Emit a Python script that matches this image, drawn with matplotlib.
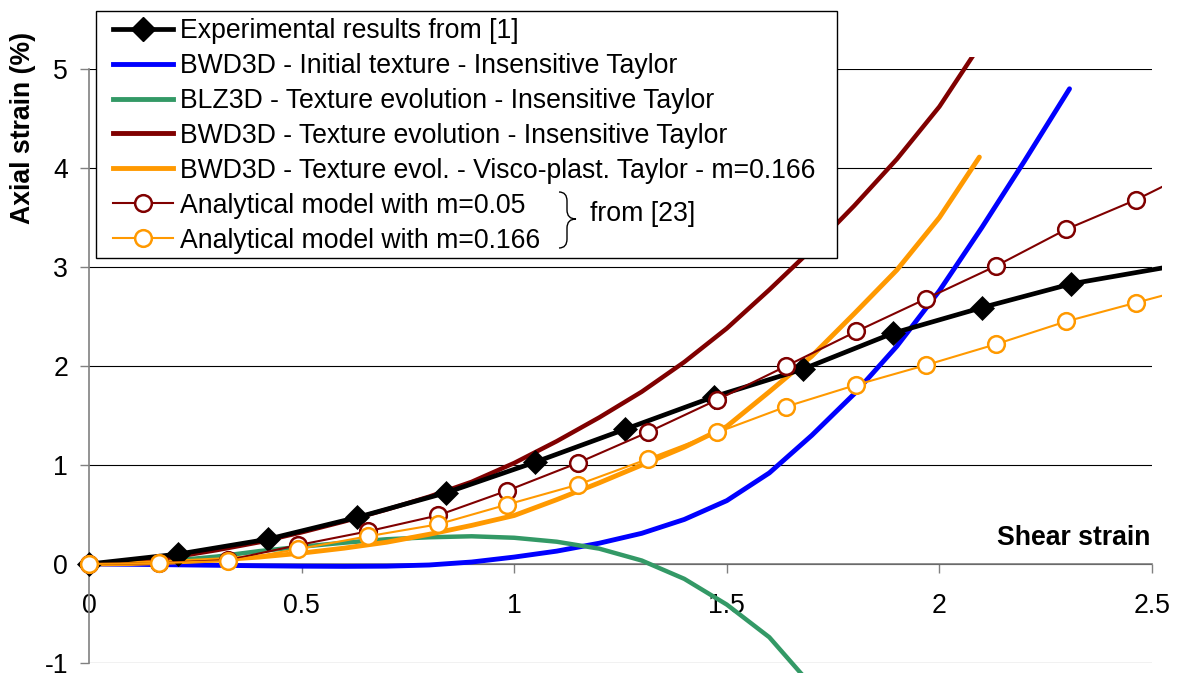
import matplotlib
matplotlib.use("Agg")
import matplotlib.pyplot as plt
from matplotlib.lines import Line2D
from matplotlib.patches import Rectangle, PathPatch
from matplotlib.path import Path
from matplotlib.transforms import Bbox, TransformedBbox

plt.rcParams['font.family'] = ['Liberation Sans', 'DejaVu Sans']
plt.rcParams['axes.unicode_minus'] = False

# ---------------- data ----------------
exp_x = [0, 0.21, 0.42, 0.63, 0.84, 1.05, 1.26, 1.47, 1.68, 1.89, 2.10, 2.31, 2.524]
exp_y = [0, 0.10, 0.25, 0.47, 0.72, 1.03, 1.36, 1.69, 1.97, 2.33, 2.59, 2.83, 2.99]

blue_x = [0, 0.1, 0.2, 0.3, 0.4, 0.5, 0.6, 0.7, 0.8, 0.9, 1.0, 1.1, 1.2, 1.3, 1.4,
          1.5, 1.6, 1.7, 1.8, 1.9, 2.0, 2.1, 2.2, 2.306]
blue_y = [0, -0.003, -0.008, -0.013, -0.018, -0.022, -0.024, -0.022, -0.01, 0.02,
          0.07, 0.13, 0.21, 0.31, 0.45, 0.64, 0.92, 1.30, 1.72, 2.20, 2.76, 3.40,
          4.07, 4.80]

green_x = [0, 0.1, 0.2, 0.3, 0.4, 0.5, 0.6, 0.7, 0.8, 0.9, 1.0, 1.1, 1.2, 1.3,
           1.4, 1.5, 1.6, 1.7]
green_y = [0, 0.01, 0.035, 0.075, 0.13, 0.175, 0.215, 0.25, 0.27, 0.28, 0.265,
           0.225, 0.155, 0.035, -0.15, -0.41, -0.74, -1.23]

brown_x = [0, 0.1, 0.2, 0.3, 0.4, 0.5, 0.6, 0.7, 0.8, 0.9, 1.0, 1.1, 1.2, 1.3,
           1.4, 1.5, 1.6, 1.7, 1.8, 1.9, 2.0, 2.08]
brown_y = [0, 0.02, 0.07, 0.14, 0.22, 0.32, 0.43, 0.55, 0.68, 0.83, 1.02, 1.24,
           1.48, 1.74, 2.04, 2.38, 2.77, 3.18, 3.62, 4.09, 4.62, 5.14]

orange_x = [0, 0.1, 0.2, 0.3, 0.4, 0.5, 0.6, 0.7, 0.8, 0.9, 1.0, 1.1, 1.2, 1.3,
            1.4, 1.5, 1.6, 1.7, 1.8, 1.9, 2.0, 2.094]
orange_y = [0, 0.005, 0.02, 0.04, 0.07, 0.11, 0.16, 0.22, 0.30, 0.39, 0.49, 0.65,
            0.82, 1.00, 1.18, 1.39, 1.74, 2.10, 2.53, 2.97, 3.50, 4.11]

ana_x = [0, 0.164, 0.328, 0.491, 0.656, 0.820, 0.983, 1.149, 1.314, 1.478, 1.640,
         1.805, 1.969, 2.133, 2.298, 2.463, 2.524]
ana05_y = [0, 0.01, 0.04, 0.19, 0.33, 0.49, 0.74, 1.02, 1.33, 1.66, 2.00, 2.35,
           2.68, 3.01, 3.38, 3.68, 3.81]
ana166_y = [0, 0.01, 0.03, 0.15, 0.28, 0.40, 0.60, 0.80, 1.06, 1.33, 1.59, 1.81,
            2.01, 2.22, 2.45, 2.64, 2.71]

labels = ["Experimental results from [1]",
          "BWD3D - Initial texture - Insensitive Taylor",
          "BLZ3D - Texture evolution - Insensitive Taylor",
          "BWD3D - Texture evolution - Insensitive Taylor",
          "BWD3D - Texture evol. - Visco-plast. Taylor - m=0.166",
          "Analytical model with m=0.05",
          "Analytical model with m=0.166"]

C_BLUE = '#0000FF'
C_GREEN = '#339966'
C_BROWN = '#800000'
C_ORANGE = '#FF9900'

# ---------------- figure ----------------
W, H = 1180, 673
fig = plt.figure(figsize=(W / 100, H / 100), dpi=100)
ax = fig.add_axes([89 / W, (H - 663) / H, (1152 - 89) / W, (663 - 69) / H])
ax.set_xlim(0, 2.5)
ax.set_ylim(-1, 5)

FS = 19.2
ax.set_xticks([0, 0.5, 1, 1.5, 2, 2.5])
ax.set_xticklabels(['0', '0.5', '1', '1.5', '2', '2.5'])
ax.set_yticks([-1, 0, 1, 2, 3, 4, 5])
ax.set_yticklabels(['-1', '0', '1', '2', '3', '4', '5'])
ax.tick_params(axis='both', direction='out', length=6.5, width=1,
               color='#808080', labelsize=FS, labelcolor='black')
ax.tick_params(axis='x', pad=14.5)
ax.tick_params(axis='y', pad=8.5)

for s in ['top', 'right']:
    ax.spines[s].set_visible(False)
ax.spines['bottom'].set_position(('data', 0))
ax.spines['bottom'].set_color('#808080')
ax.spines['left'].set_color('#808080')
ax.spines['bottom'].set_linewidth(1.2)
ax.spines['left'].set_linewidth(1.2)

ax.set_axisbelow(True)
ax.grid(axis='y', color='black', linewidth=0.8)
ax.grid(axis='x', visible=False)

ax.set_ylabel('Axial strain (%)', fontsize=FS, fontweight='bold', va='center')
ax.yaxis.set_label_coords((23 - 89) / (1152 - 89), (663 - 128) / (663 - 69))
ax.set_xlabel('Shear strain', fontsize=FS, fontweight='bold', ha='right', va='center')
ax.xaxis.set_label_coords((1150 - 89) / (1152 - 89), (663 - 538) / (663 - 69))

clip = TransformedBbox(Bbox.from_extents(-0.2, -1.6, 2.524, 5.12), ax.transData)

lines = []
lines.append(ax.plot(exp_x, exp_y, color='black', lw=3.4, marker='D', ms=12,
                     mfc='black', mec='black', mew=0.5,
                     markevery=list(range(len(exp_x) - 1)), zorder=5)[0])
lines.append(ax.plot(blue_x, blue_y, color=C_BLUE, lw=3.5, zorder=3,
                     solid_capstyle='round', solid_joinstyle='round')[0])
lines.append(ax.plot(green_x, green_y, color=C_GREEN, lw=3.2, zorder=3,
                     solid_joinstyle='round')[0])
lines.append(ax.plot(brown_x, brown_y, color=C_BROWN, lw=3.2, zorder=3,
                     solid_joinstyle='round')[0])
lines.append(ax.plot(orange_x, orange_y, color=C_ORANGE, lw=3.5, zorder=4,
                     solid_capstyle='round', solid_joinstyle='round')[0])
lines.append(ax.plot(ana_x, ana05_y, color=C_BROWN, lw=1.5, marker='o', ms=12,
                     mfc='white', mec=C_BROWN, mew=1.8,
                     markevery=list(range(len(ana_x) - 1)), zorder=6)[0])
lines.append(ax.plot(ana_x, ana166_y, color=C_ORANGE, lw=1.5, marker='o', ms=12,
                     mfc='white', mec=C_ORANGE, mew=1.8,
                     markevery=list(range(len(ana_x) - 1)), zorder=7)[0])
for ln in lines:
    ln.set_clip_box(clip)

# ---------------- legend ----------------
handles = [
    Line2D([], [], color='black', lw=3.4, marker='D', ms=12, mfc='black', mec='black'),
    Line2D([], [], color=C_BLUE, lw=3.5),
    Line2D([], [], color=C_GREEN, lw=3.5),
    Line2D([], [], color=C_BROWN, lw=3.5),
    Line2D([], [], color=C_ORANGE, lw=3.5),
    Line2D([], [], color=C_BROWN, lw=1.5, marker='o', ms=12, mfc='white', mec=C_BROWN, mew=1.8),
    Line2D([], [], color=C_ORANGE, lw=1.5, marker='o', ms=12, mfc='white', mec=C_ORANGE, mew=1.8),
]
leg = fig.legend(handles, labels, loc='upper left',
                 bbox_to_anchor=(113 / W, 1 - 18 / H), bbox_transform=fig.transFigure,
                 frameon=False, borderpad=0, borderaxespad=0, fontsize=FS,
                 handlelength=2.25, handletextpad=0.27, labelspacing=0.335)
leg.set_zorder(2)

fig.patches.append(Rectangle((96 / W, 1 - 258 / H), (837 - 96) / W, (258 - 11) / H,
                             transform=fig.transFigure, facecolor='white',
                             edgecolor='black', lw=1.0, zorder=1))

# brace
def P(px, py):
    return (px / W, 1 - py / H)

verts = [P(559, 192), P(567, 192), P(567, 201), P(567, 210), P(567, 219), P(576, 219),
         P(567, 219), P(567, 228), P(567, 239), P(567, 248), P(559, 248)]
codes = [Path.MOVETO, Path.CURVE3, Path.CURVE3, Path.LINETO, Path.CURVE3, Path.CURVE3,
         Path.CURVE3, Path.CURVE3, Path.LINETO, Path.CURVE3, Path.CURVE3]
fig.patches.append(PathPatch(Path(verts, codes), transform=fig.transFigure,
                             facecolor='none', edgecolor='black', lw=1.0, zorder=3))
fig.text(590 / W, 1 - 214 / H, 'from [23]', fontsize=FS, va='center', ha='left', zorder=3)

fig.savefig('out.png', dpi=100)
